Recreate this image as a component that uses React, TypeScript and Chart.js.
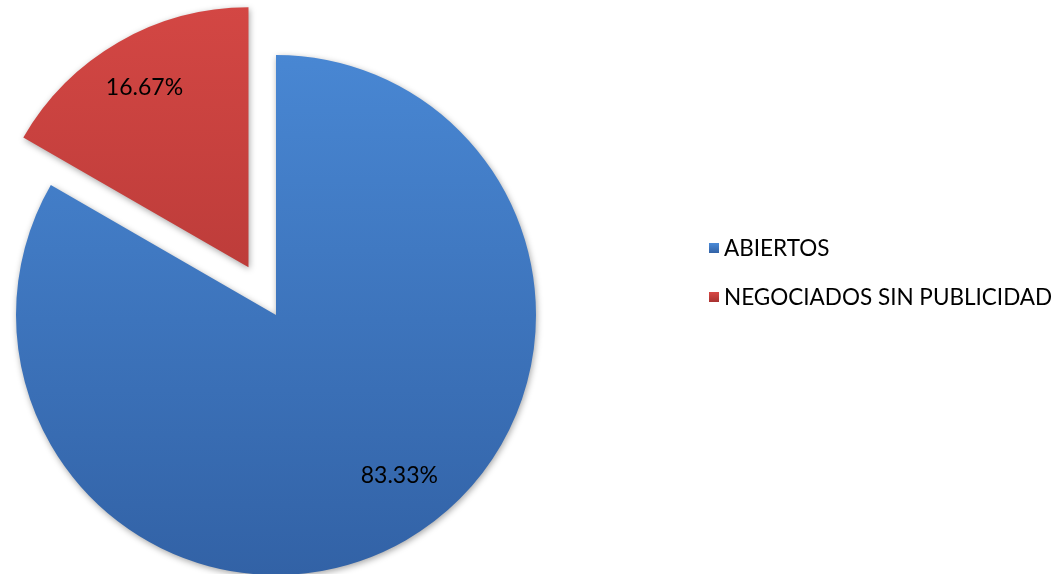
import React, { useEffect, useRef } from "react";
import { Chart, registerables } from "chart.js";

Chart.register(...registerables);

const categories = ["ABIERTOS", "NEGOCIADOS SIN PUBLICIDAD"];
const values = [83.33, 16.67];
const valueLabels = ["83.33%", "16.67%"];
const explode = [0, 55];
const topColors = ["#4b8bd8", "#d84946"];
const bottomColors = ["#3262a6", "#a83230"];
const labelRadiusFraction = [0.78, 0.8];
const labelAngleShift = [-0.13, 0];

const FONT = "Lato, 'Open Sans', sans-serif";

export default function App() {
  const ref = useRef<HTMLCanvasElement | null>(null);
  useEffect(() => {
    if (!ref.current) return;
    const gradFor = (ctx: any, i: number) => {
      const chart = ctx.chart;
      const area = chart.chartArea;
      if (!area) return topColors[i];
      const cy = (area.top + area.bottom) / 2;
      const g = chart.ctx.createLinearGradient(0, cy - 320, 0, cy + 260);
      g.addColorStop(0, topColors[i]);
      g.addColorStop(1, bottomColors[i]);
      return g;
    };
    const overlay = {
      id: "overlay",
      beforeDatasetDraw(chart: any, args: any) {
        const ctx = chart.ctx;
        const meta = chart.getDatasetMeta(args.index);
        meta.data.forEach((arc: any, i: number) => {
          const p = arc.getProps(["startAngle", "endAngle"], true);
          const mid = (p.startAngle + p.endAngle) / 2;
          ctx.save();
          ctx.translate(Math.cos(mid) * explode[i], Math.sin(mid) * explode[i]);
          ctx.shadowColor = "rgba(0,0,0,0.35)";
          ctx.shadowBlur = 6;
          ctx.shadowOffsetX = 1;
          ctx.shadowOffsetY = 2;
          arc.draw(ctx);
          ctx.restore();
        });
        return false;
      },
      afterDatasetsDraw(chart: any) {
        const ctx = chart.ctx;
        const meta = chart.getDatasetMeta(0);
        ctx.save();
        ctx.fillStyle = "#000";
        ctx.font = `23px ${FONT}`;
        ctx.textAlign = "center";
        ctx.textBaseline = "middle";
        meta.data.forEach((arc: any, i: number) => {
          const p = arc.getProps(["x", "y", "startAngle", "endAngle", "outerRadius"], true);
          const mid0 = (p.startAngle + p.endAngle) / 2;
          const mid = mid0 + labelAngleShift[i];
          const cx = p.x + Math.cos(mid0) * explode[i];
          const cy = p.y + Math.sin(mid0) * explode[i];
          const r = p.outerRadius * labelRadiusFraction[i];
          ctx.fillText(valueLabels[i], cx + Math.cos(mid) * r, cy + Math.sin(mid) * r);
        });
        // legend
        const lx = 709;
        const rows = [248, 297];
        ctx.textAlign = "left";
        ctx.font = `22.5px ${FONT}`;
        categories.forEach((c, i) => {
          const y = rows[i];
          const g = ctx.createLinearGradient(0, y - 5, 0, y + 5);
          g.addColorStop(0, topColors[i]);
          g.addColorStop(1, bottomColors[i]);
          ctx.fillStyle = g;
          ctx.fillRect(lx, y - 5, 10, 10);
          ctx.fillStyle = "#000";
          ctx.fillText(c, lx + 15, y + 1);
        });
        ctx.restore();
      },
    };
    const chart = new Chart(ref.current, {
      type: "pie",
      data: {
        labels: categories,
        datasets: [
          {
            data: values,
            backgroundColor: (ctx: any) => gradFor(ctx, ctx.dataIndex),
            borderWidth: 0,
          },
        ],
      },
      options: {
        animation: false,
        responsive: true,
        maintainAspectRatio: false,
        radius: 260,
        layout: { padding: { left: 0, right: 511, top: 56, bottom: 0 } },
        plugins: {
          legend: { display: false },
          tooltip: { enabled: false },
        },
      } as any,
      plugins: [overlay],
    });
    return () => chart.destroy();
  }, []);
  return (
    <div style={{ position: "absolute", left: 0, top: 0, width: 1063, height: 574, background: "#fff" }}>
      <canvas ref={ref} />
    </div>
  );
}
